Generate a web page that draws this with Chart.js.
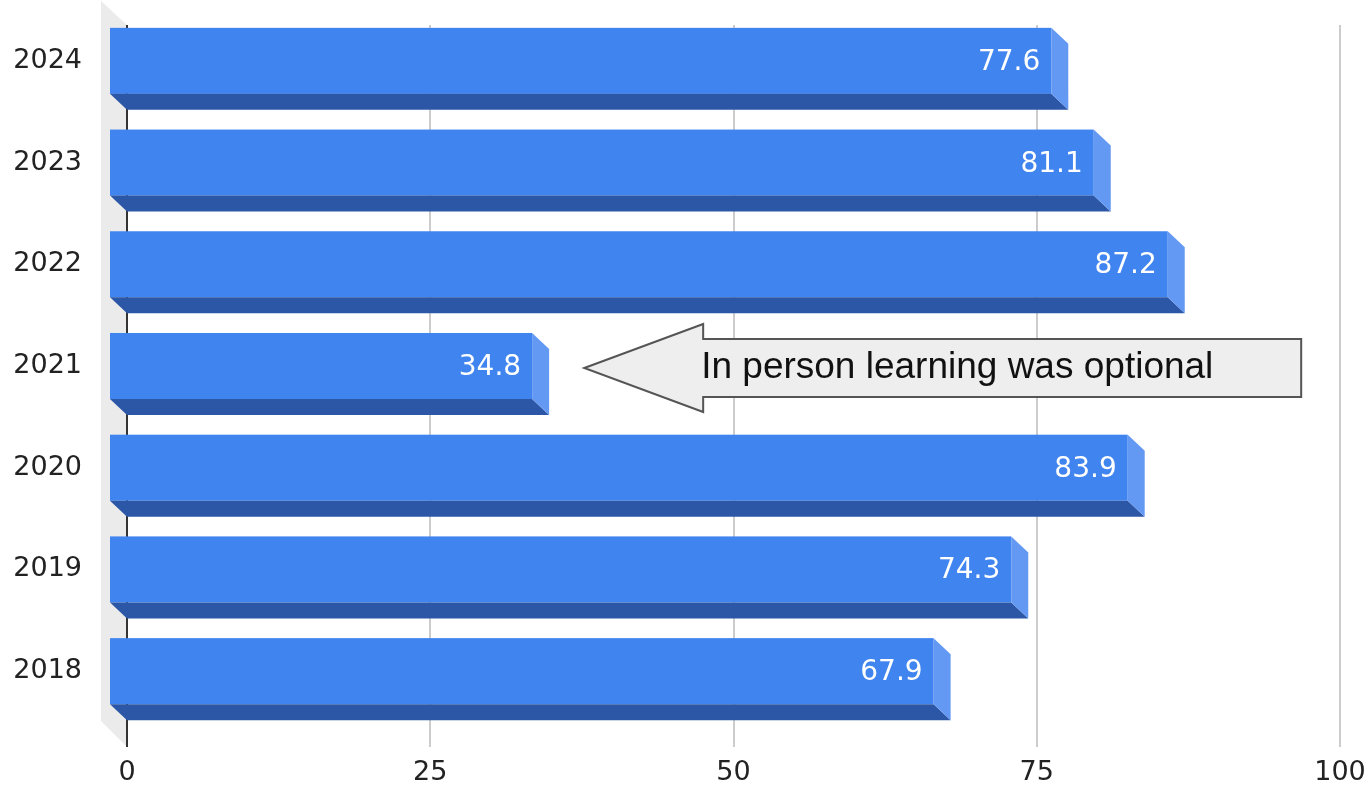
<!DOCTYPE html>
<html>
<head>
<meta charset="utf-8">
<script src="https://cdn.jsdelivr.net/npm/chart.js@4/dist/chart.umd.min.js"></script>
<style>
  html, body { margin: 0; padding: 0; background: #fff; }
  #wrap { width: 1367px; height: 789px; }
</style>
</head>
<body>
<div id="wrap"><canvas id="canva"></canvas></div>
<script>
// datos
var years = ["2024", "2023", "2022", "2021", "2020", "2019", "2018"];
var values = [77.6, 81.1, 87.2, 34.8, 83.9, 74.3, 67.9];
var xTicks = [0, 25, 50, 75, 100];

// nota de la flecha (en unidades del eje x)
var noteText = "In person learning was optional";
var noteYear = "2021";
var noteTip = 37.7, noteBase = 47.5, noteEnd = 96.8;

// profundidad 3d
var DX = 17, DY = 16;
var WALL_DX = 26, WALL_DY = 26;

var frontColor = "#4084f0";
var bottomColor = "#2b57a6";
var sideColor = "#6398f3";

var bars3d = {
    id: "bars3d",
    beforeDatasetsDraw: function (chart) {
        var c = chart.ctx, area = chart.chartArea, xs = chart.scales.x;
        var gTop = area.top + 15, gBot = area.bottom + 25;
        // pared izquierda
        c.save();
        c.fillStyle = "#ebebeb";
        c.beginPath();
        c.moveTo(area.left, gTop);
        c.lineTo(area.left, gBot);
        c.lineTo(area.left - WALL_DX, gBot - WALL_DY);
        c.lineTo(area.left - WALL_DX, gTop - WALL_DY + 2);
        c.closePath();
        c.fill();
        // lineas de la grilla
        for (var i = 0; i < xTicks.length; i++) {
            var px = Math.round(xs.getPixelForValue(xTicks[i]));
            c.strokeStyle = xTicks[i] == 0 ? "#333333" : "#cccccc";
            c.lineWidth = 2;
            c.beginPath();
            c.moveTo(px, gTop);
            c.lineTo(px, gBot);
            c.stroke();
        }
        c.restore();
    },
    afterDatasetsDraw: function (chart) {
        var c = chart.ctx;
        var meta = chart.getDatasetMeta(0);
        c.save();
        meta.data.forEach(function (bar, i) {
            var x = bar.x, base = bar.base;
            var fh = bar.height - DY;
            var top = bar.y - fh / 2;
            // cara frontal
            c.fillStyle = frontColor;
            c.fillRect(base - DX, top, x - base, fh);
            // cara inferior
            c.fillStyle = bottomColor;
            c.beginPath();
            c.moveTo(base - DX, top + fh);
            c.lineTo(x - DX, top + fh);
            c.lineTo(x, top + fh + DY);
            c.lineTo(base, top + fh + DY);
            c.closePath();
            c.fill();
            // cara lateral
            c.fillStyle = sideColor;
            c.beginPath();
            c.moveTo(x - DX, top);
            c.lineTo(x, top + DY);
            c.lineTo(x, top + fh + DY);
            c.lineTo(x - DX, top + fh);
            c.closePath();
            c.fill();
            // etiqueta
            c.fillStyle = "#ffffff";
            c.font = "28px 'DejaVu Sans', Verdana, sans-serif";
            c.textAlign = "right";
            c.textBaseline = "alphabetic";
            c.fillText(values[i].toFixed(1), x - DX - 11, bar.y + 9);
        });

        // flecha con la nota
        var xs = chart.scales.x, ys = chart.scales.y;
        var cy = ys.getPixelForValue(years.indexOf(noteYear)) + 2;
        var tip = xs.getPixelForValue(noteTip);
        var b = xs.getPixelForValue(noteBase);
        var e = xs.getPixelForValue(noteEnd);
        var hb = 29, hh = 44;
        c.fillStyle = "#eeeeee";
        c.strokeStyle = "#555555";
        c.lineWidth = 2;
        c.beginPath();
        c.moveTo(tip, cy);
        c.lineTo(b, cy - hh);
        c.lineTo(b, cy - hb);
        c.lineTo(e, cy - hb);
        c.lineTo(e, cy + hb);
        c.lineTo(b, cy + hb);
        c.lineTo(b, cy + hh);
        c.closePath();
        c.fill();
        c.stroke();
        c.fillStyle = "#111111";
        c.font = "37px 'Liberation Sans', Arial, sans-serif";
        c.textAlign = "left";
        c.textBaseline = "middle";
        c.fillText(noteText, b - 2, cy);
        c.restore();
    }
};

var dataset = {
    labels: years,
    datasets: [
        {
            label: "valores",
            data: values,
            backgroundColor: "rgba(0,0,0,0)",
            borderWidth: 0,
            categoryPercentage: 1,
            barPercentage: 0.8065
        }
    ]
};

const ctx = document.getElementById("canva");
const myChart = new Chart(ctx, {
    type: "bar",
    data: dataset,
    plugins: [bars3d],
    options: {
        indexAxis: "y",
        responsive: true,
        maintainAspectRatio: false,
        animation: false,
        layout: { padding: { top: 10, right: 27, left: 0, bottom: 0 } },
        plugins: {
            legend: { display: false },
            tooltip: { enabled: false }
        },
        scales: {
            x: {
                min: 0,
                max: 100,
                grid: { display: false, drawTicks: false },
                border: { display: false },
                afterFit: function (scale) {
                    scale.height = 67;
                    scale.paddingLeft = 0;
                    scale.paddingRight = 0;
                },
                ticks: {
                    stepSize: 25,
                    padding: 35,
                    color: "#222222",
                    font: { family: "'DejaVu Sans', Verdana, sans-serif", size: 27 }
                }
            },
            y: {
                grid: { display: false, drawTicks: false },
                border: { display: false },
                afterFit: function (scale) {
                    scale.width = 127;
                    scale.paddingTop = 0;
                    scale.paddingBottom = 0;
                },
                ticks: {
                    padding: 45,
                    color: "#222222",
                    font: { family: "'DejaVu Sans', Verdana, sans-serif", size: 27 }
                }
            }
        }
    }
});
</script>
</body>
</html>
